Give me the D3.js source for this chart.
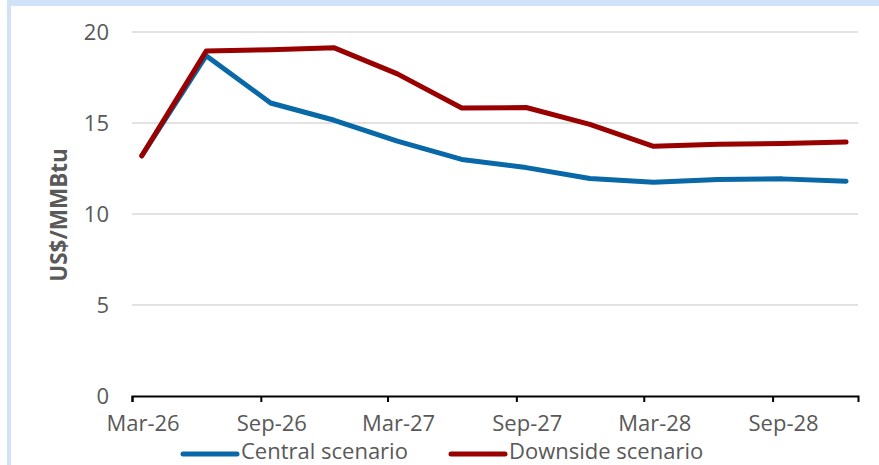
<!DOCTYPE html>
<html>
<head>
<meta charset="utf-8">
<script src="https://cdn.jsdelivr.net/npm/d3@7"></script>
<style>
  html, body { margin: 0; padding: 0; background: #fff; }
  svg { display: block; }
</style>
</head>
<body>
<svg id="chart" width="879" height="465"></svg>
<script>
// Quarterly LNG price outlook, US$/MMBtu
const dates = ["2026-03-15","2026-06-15","2026-09-15","2026-12-15",
               "2027-03-15","2027-06-15","2027-09-15","2027-12-15",
               "2028-03-15","2028-06-15","2028-09-15","2028-12-15"];
const central  = [13.2, 18.7, 16.1, 15.15, 14.0, 13.0, 12.55, 11.95, 11.75, 11.9, 11.93, 11.8];
const downside = [13.2, 18.95, 19.03, 19.13, 17.7, 15.82, 15.85, 14.92, 13.72, 13.83, 13.88, 13.95];
const seriesNames = ["Central scenario", "Downside scenario"];
const seriesColors = ["#0868a8", "#990000"];
const yTicks = [0, 5, 10, 15, 20];
const xTickDates = ["2026-03-01","2026-09-01","2027-03-01","2027-09-01","2028-03-01","2028-09-01"];
const xDomain = ["2026-03-01", "2029-01-01"];

const parse = d3.utcParse("%Y-%m-%d");
const svg = d3.select("#chart");
const W = 879, H = 465;
const font = "'Open Sans', 'Liberation Sans', Arial, sans-serif";
const textCol = "#595959";

// frame strips
svg.append("rect").attr("x", 7).attr("y", 0).attr("width", W - 7).attr("height", 6).attr("fill", "#cfe2f8");
svg.append("rect").attr("x", 7).attr("y", 0).attr("width", 4).attr("height", H).attr("fill", "#cfe2f8");

const x = d3.scaleUtc().domain(xDomain.map(parse)).range([132, 858]);
const y = d3.scaleLinear().domain([0, 20]).range([396, 32]);

// gridlines
svg.append("g").selectAll("line").data(yTicks.filter(v => v > 0)).join("line")
  .attr("x1", 132).attr("x2", 858)
  .attr("y1", d => y(d)).attr("y2", d => y(d))
  .attr("stroke", "#d9d9d9").attr("stroke-width", 1.5);

// y axis labels
const yAxis = svg.append("g").attr("transform", "translate(132,0)")
  .call(d3.axisLeft(y).tickValues(yTicks).tickSize(0).tickPadding(23));
yAxis.select(".domain").remove();
yAxis.selectAll("text").attr("font-family", font).attr("font-size", 22).attr("fill", textCol);

// x axis; month labels sit at mid-month, beside their tick marks
const x0 = xTickDates.map(parse)[0];
const labelShift = x(d3.utcDay.offset(x0, 15)) - x(x0);
const xAxis = svg.append("g").attr("transform", "translate(0,396)")
  .call(d3.axisBottom(x).tickValues(xTickDates.map(parse))
    .tickFormat(d3.utcFormat("%b-%y")).tickSizeOuter(0).tickSize(6).tickPadding(13));
xAxis.select(".domain").attr("stroke", "#000").attr("stroke-width", 2);
xAxis.selectAll(".tick line").attr("stroke", "#000").attr("stroke-width", 2);
xAxis.selectAll("text").attr("font-family", font).attr("font-size", 22).attr("fill", textCol)
  .attr("dx", labelShift);

// y axis title
svg.append("text")
  .attr("transform", "translate(67,215) rotate(-90)")
  .attr("text-anchor", "middle")
  .attr("font-family", font).attr("font-size", 22.5).attr("font-weight", "bold")
  .attr("fill", textCol)
  .text("US$/MMBtu");

// lines
const line = d3.line().x(d => x(d.date)).y(d => y(d.value));
[central, downside].forEach((vals, i) => {
  const pts = vals.map((v, j) => ({ date: parse(dates[j]), value: v }));
  svg.append("path").datum(pts)
    .attr("d", line)
    .attr("fill", "none")
    .attr("stroke", seriesColors[i])
    .attr("stroke-width", 5)
    .attr("stroke-linejoin", "round")
    .attr("stroke-linecap", "round");
});

// legend
const legendX = [183, 451];
seriesNames.forEach((name, i) => {
  const g = svg.append("g").attr("transform", `translate(${legendX[i]},454)`);
  g.append("line").attr("x1", 0).attr("x2", 54).attr("y1", 0).attr("y2", 0)
    .attr("stroke", seriesColors[i]).attr("stroke-width", 5).attr("stroke-linecap", "round");
  g.append("text").attr("x", 58).attr("y", 5)
    .attr("font-family", font).attr("font-size", 22).attr("fill", textCol)
    .text(name);
});
</script>
</body>
</html>
